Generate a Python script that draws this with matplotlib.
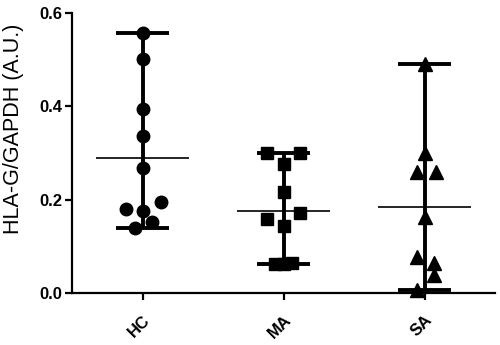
import numpy as np
import matplotlib
matplotlib.use('Agg')
import matplotlib.pyplot as plt
import matplotlib.transforms as mtransforms

plt.rcParams['font.family'] = ['Liberation Sans', 'DejaVu Sans']

groups = ['HC', 'MA', 'SA']

# values
hc = [0.556, 0.501, 0.394, 0.337, 0.268, 0.194, 0.179, 0.176, 0.152, 0.139]
ma = [0.299, 0.299, 0.277, 0.216, 0.171, 0.159, 0.143, 0.061, 0.063, 0.062]
sa = [0.491, 0.299, 0.259, 0.259, 0.163, 0.077, 0.064, 0.038, 0.006]

# horizontal scatter of the points around each group
hc_jit = [0, 0, 0, 0, 0, 0.13, -0.115, 0, 0.064, -0.05]
ma_jit = [-0.12, 0.12, 0, 0, 0.12, -0.12, 0, -0.06, 0.06, 0]
sa_jit = [0, 0, -0.05, 0.08, 0, -0.05, 0.07, 0.07, -0.05]

data = [hc, ma, sa]
jitter = [hc_jit, ma_jit, sa_jit]
markers = ['o', 's', '^']
msizes = [9, 8.5, 9.5]

fig = plt.figure(figsize=(5, 3.45), dpi=100)
ax = fig.add_axes([0.144, 0.151, 0.846, 0.812])

for i, (vals, jit) in enumerate(zip(data, jitter)):
    vals = np.array(vals)
    xs = i + np.array(jit)
    ax.vlines(i, vals.min(), vals.max(), color='black', lw=2.8, zorder=2)
    ax.hlines([vals.min(), vals.max()], i - 0.19, i + 0.19, color='black', lw=2.8, zorder=2)
    ax.hlines(vals.mean(), i - 0.33, i + 0.33, color='black', lw=1.2, zorder=2)
    ax.plot(xs, vals, linestyle='none', marker=markers[i], markersize=msizes[i],
            color='black', zorder=3, clip_on=False)

ax.set_xlim(-0.5, 2.5)
ax.set_ylim(0, 0.6)
ax.set_yticks([0.0, 0.2, 0.4, 0.6])
ax.set_yticklabels(['0.0', '0.2', '0.4', '0.6'], fontsize=12, fontweight='bold')
ax.set_xticks(range(3))
ax.set_xticklabels(groups, fontsize=12, fontweight='bold', rotation=45,
                   ha='right', rotation_mode='anchor')
shift = mtransforms.ScaledTranslation(6 / 100, 0, fig.dpi_scale_trans)
for lab in ax.get_xticklabels():
    lab.set_transform(lab.get_transform() + shift)
ax.set_ylabel('HLA-G/GAPDH (A.U.)', fontsize=15.5)
ax.yaxis.set_label_coords(-0.113, 0.585)

for s in ['top', 'right']:
    ax.spines[s].set_visible(False)
for s in ['left', 'bottom']:
    ax.spines[s].set_linewidth(1.6)
ax.tick_params(direction='out', length=5, width=1.6, pad=2)
ax.tick_params(axis='x', pad=9)

fig.savefig('out.png', dpi=100)
